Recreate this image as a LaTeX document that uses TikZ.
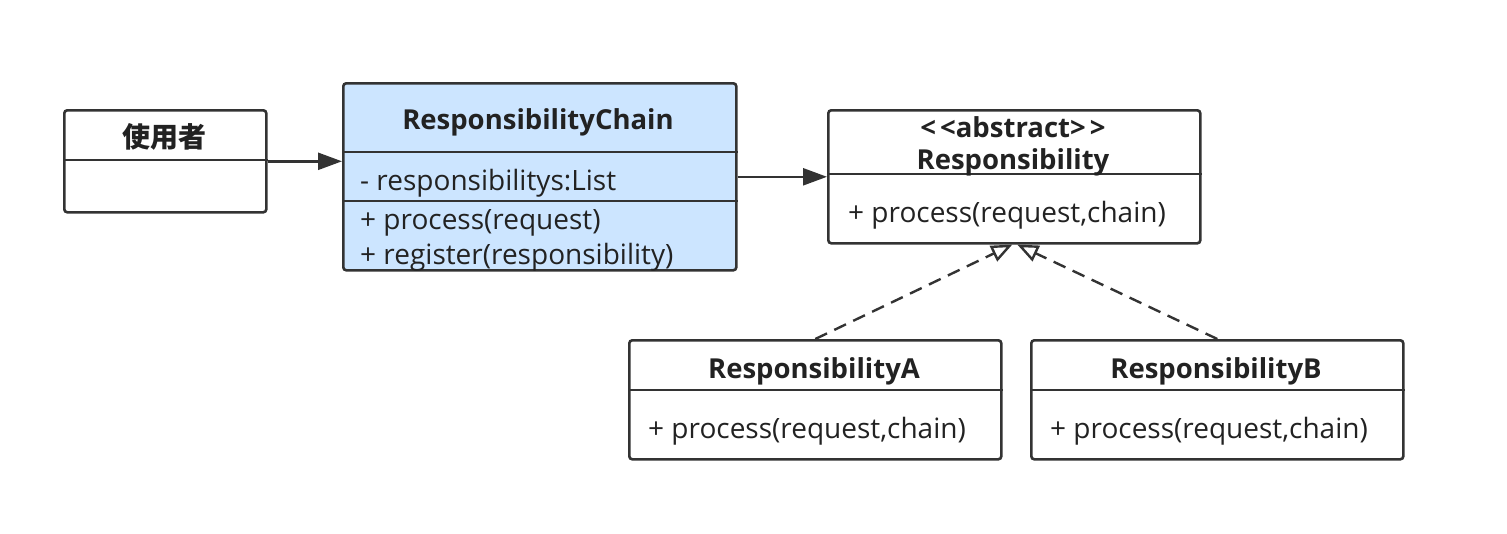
\documentclass[tikz,border=0pt]{standalone}
\usepackage{fontspec}
\setmainfont{Open Sans}
\newfontfamily\cjkfont{Noto Sans CJK SC}
\usetikzlibrary{arrows.meta, positioning}
\definecolor{linegray}{HTML}{333333}
\definecolor{textgray}{HTML}{222222}
\definecolor{chainblue}{HTML}{CCE5FF}

\begin{document}
\begin{tikzpicture}[
    x=1pt, y=-1pt,
    umlbox/.style={rectangle, rounded corners=3pt, draw=linegray, line width=2.6pt, fill=white, anchor=north west, inner sep=0pt},
    classname/.style={font=\fontsize{27.5}{30}\selectfont\bfseries, text=textgray, anchor=base},
    member/.style={font=\fontsize{28}{32}\selectfont, text=textgray, anchor=base west, inner sep=0pt},
    divider/.style={draw=linegray, line width=2.4pt},
    arrow/.style={-{Triangle[length=24pt, width=17pt]}, draw=linegray, fill=linegray, line width=2.4pt},
    realize/.style={-{Triangle[open, length=21pt, width=17pt, line width=2.4pt]}, draw=linegray, line width=2.4pt, dash pattern=on 13pt off 8pt}
]
\useasboundingbox (0,0) rectangle (1507,533);

% Row 1: user, chain and abstract class
\node (user) [umlbox, minimum width=202pt, minimum height=102pt] at (63,109) {};
\node (chain) [umlbox, fill=chainblue, minimum width=393pt, minimum height=187pt] at (342,82) {};
\node (abs) [umlbox, minimum width=372pt, minimum height=133pt] at (827,109) {};

% Row 2: concrete responsibilities
\node (respA) [umlbox, minimum width=372pt, minimum height=119pt] at (628,339) {};
\node (respB) [umlbox, minimum width=372pt, minimum height=119pt] at (1030,339) {};

% Dividers
\draw [divider] (user.west |- 0,160) -- (user.east |- 0,160);
\draw [divider] (chain.west |- 0,152) -- (chain.east |- 0,152);
\draw [divider] (chain.west |- 0,201) -- (chain.east |- 0,201);
\draw [divider] (abs.west |- 0,174) -- (abs.east |- 0,174);
\draw [divider] (respA.west |- 0,390) -- (respA.east |- 0,390);
\draw [divider] (respB.west |- 0,390) -- (respB.east |- 0,390);

% Texts
\node (userName) [font=\cjkfont\fontsize{28}{30}\selectfont\bfseries, text=textgray] at (164,137) {使用者};
\node (chainName) [classname] at (538,129) {ResponsibilityChain};
\node (chainAttr) [member] at (360,190) {- responsibilitys:List};
\node (chainOpA) [member] at (360,229) {+ process(request)};
\node (chainOpB) [member] at (360,264) {+ register(responsibility)};
\node (absTag) [classname] at (1013,137) {<\kern4pt<abstract>\kern4pt>};
\node (absName) [classname] at (1013,169) {Responsibility};
\node (absOp) [member] at (848,222) {+ process(request,chain)};
\node (respAName) [classname] at (814,378) {ResponsibilityA};
\node (respAOp) [member] at (648,438) {+ process(request,chain)};
\node (respBName) [classname] at (1216,378) {ResponsibilityB};
\node (respBOp) [member] at (1050,438) {+ process(request,chain)};

% Arrows
\draw [arrow] (user.east) -- (user.east -| chain.west);
\draw [arrow] (chain) -- (abs);
\draw [realize] (respA.north) -- ([xshift=-2pt]abs.south);
\draw [realize] (respB.north) -- ([xshift=3pt]abs.south);
\end{tikzpicture}
\end{document}
